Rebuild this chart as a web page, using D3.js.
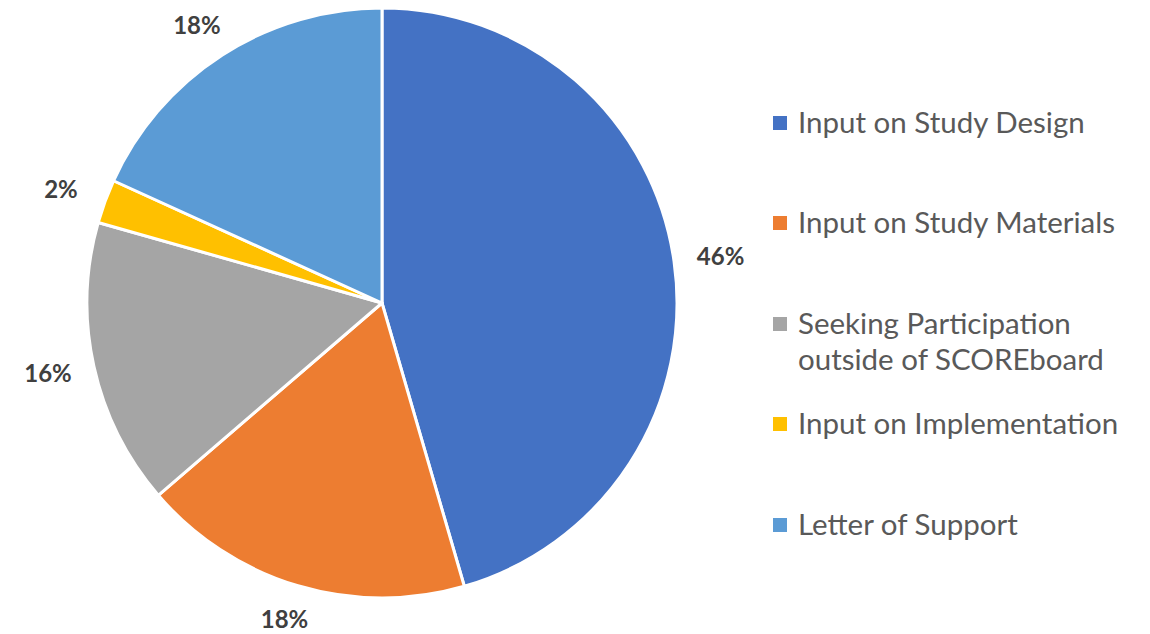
<!DOCTYPE html>
<html>
<head>
<meta charset="utf-8">
<script src="https://cdn.jsdelivr.net/npm/d3@7"></script>
<style>
  body { margin: 0; background: #fff; }
  svg { display: block; font-family: Lato, "Open Sans", sans-serif; }
</style>
</head>
<body>
<script>
const categories = ['Input on Study Design', 'Input on Study Materials', 'Seeking Participation outside of SCOREboard', 'Input on Implementation', 'Letter of Support'];
// slice shares as drawn (the printed labels are rounded)
const values = [45.5, 18.2, 15.7, 2.4, 18.2];
const pctLabels = ['46%', '18%', '16%', '2%', '18%'];
const colors = ['#4472C4', '#ED7D31', '#A5A5A5', '#FFC000', '#5B9BD5'];
// legend lines (wrapped like the original)
const legendLines = [['Input on Study Design'], ['Input on Study Materials'], ['Seeking Participation', 'outside of SCOREboard'], ['Input on Implementation'], ['Letter of Support']];

const width = 1150, height = 634;
const cx = 382, cy = 303, radius = 295;
const labelRx = 342, labelRy = 330;

const svg = d3.select('body').append('svg')
    .attr('width', width)
    .attr('height', height);

const data = categories.map((c, i) => ({name: c, value: values[i], label: pctLabels[i]}));
const pie = d3.pie().sort(null).value(d => d.value);
const arc = d3.arc().innerRadius(0).outerRadius(radius);
const color = d3.scaleOrdinal().domain(categories).range(colors);

const g = svg.append('g').attr('transform', `translate(${cx},${cy})`);
const arcs = pie(data);

g.selectAll('path')
    .data(arcs)
    .enter()
    .append('path')
        .attr('d', arc)
        .attr('fill', d => color(d.data.name))
        .attr('stroke', '#fff')
        .attr('stroke-width', 3)
        .attr('stroke-linejoin', 'round');

const labelPos = d => {
    const a = (d.startAngle + d.endAngle) / 2;
    return [labelRx * Math.sin(a), -labelRy * Math.cos(a)];
};

g.selectAll('text.pct')
    .data(arcs)
    .enter()
    .append('text')
        .attr('class', 'pct')
        .attr('transform', d => `translate(${labelPos(d)})`)
        .attr('text-anchor', 'middle')
        .attr('dy', '0.35em')
        .attr('font-size', 24)
        .attr('font-weight', 'bold')
        .attr('fill', '#404040')
        .text(d => d.data.label);

// legend
const legendY = [123, 223, 324, 424, 525];
const legend = svg.append('g').attr('class', 'legend');
legendLines.forEach((lines, i) => {
    const row = legend.append('g').attr('transform', `translate(773,${legendY[i]})`);
    row.append('rect')
        .attr('x', 0).attr('y', -7)
        .attr('width', 14).attr('height', 14)
        .attr('fill', colors[i]);
    lines.forEach((t, j) => {
        row.append('text')
            .attr('x', 25)
            .attr('y', j * 36)
            .attr('dy', '0.35em')
            .attr('font-size', 29.5)
            .attr('fill', '#595959')
            .text(t);
    });
});
</script>
</body>
</html>
